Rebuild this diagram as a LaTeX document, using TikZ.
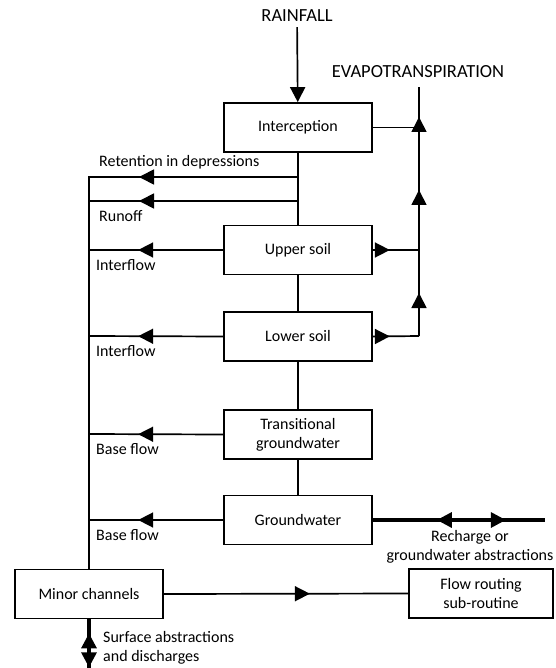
\documentclass[tikz,border=0pt]{standalone}
\usepackage{fontspec}
\setmainfont{Carlito}
\usepackage{tikz}
\usetikzlibrary{arrows.meta, decorations.markings}

\tikzset{
  box/.style={draw, line width=1.7pt, minimum width=148pt, minimum height=49pt, inner sep=0pt, align=center},
  title/.style={inner sep=0pt, font=\fontsize{18.5}{22}\selectfont},
  lbl/.style={inner sep=0pt, align=left},
  flow/.style={line width=1.7pt},
  heavy/.style={line width=3.2pt},
  tipat/.style={postaction={decorate, decoration={markings, mark=at position #1 with {\arrow{Triangle[length=15pt,width=15pt]}}}}},
  backtipat/.style={postaction={decorate, decoration={markings, mark=at position #1 with {\arrowreversed{Triangle[length=15pt,width=15pt]}}}}}
}

\begin{document}
\begin{tikzpicture}[x=1pt, y=-1pt, font=\fontsize{16}{19}\selectfont]
\useasboundingbox (0,0) rectangle (555,668);

% Stores
\node[box] (intc) at (298,127.5) {Interception};
\node[box] (upper) at (298,250) {Upper soil};
\node[box] (lower) at (298,336.5) {Lower soil};
\node[box] (trans) at (298,434.5) {Transitional\\groundwater};
\node[box] (gw) at (298,520) {Groundwater};
\node[box] (minor) at (89,594) {Minor channels};
\node[box, minimum width=144pt] (route) at (481,593.5) {Flow routing\\sub-routine};

% Inputs and outputs at the top
\node[title] (rain) at (297,16) {RAINFALL};
\node[title] (evap) at (418,72) {EVAPOTRANSPIRATION};
\draw[flow, -{Triangle[length=15pt,width=15pt]}, shorten <=5pt] (rain) -- (intc);

% Vertical chain through the stores
\draw[flow] (intc.south) -- (upper.north);
\draw[flow] (upper.south) -- (lower.north);
\draw[flow] (lower.south) -- (trans.north);
\draw[flow] (trans.south) -- (gw.north);

% Retention and runoff
\coordinate (c1) at (298,177);
\coordinate (c2) at (298,201);
\coordinate (r1) at (89,177);
\coordinate (r2) at (89,201);
\draw[flow, tipat=159pt] (c1) -- (r1) -- (minor.north);
\draw[flow, tipat=159pt] (c2) -- (r2);
\node[lbl, anchor=base west] (ret) at (99,167) {Retention in depressions};
\node[lbl, anchor=base west] (run) at (99,221) {Runoff};

% Interflow and base flow
\foreach \n/\y/\t in {upper/250/Interflow, lower/336/Interflow, trans/434/Base flow, gw/520/Base flow} {
  \coordinate (l-\n) at (89,\y);
  \draw[flow, tipat=85pt] (\n.west) -- (l-\n);
  \node[lbl, anchor=base west] (t-\n) at (96,\y+20) {\t};
}

% Evapotranspiration
\coordinate (e-top) at (419,87);
\coordinate (e-intc) at (419,127.5);
\foreach \n/\y in {upper/250, lower/336} {
  \coordinate (e-\n) at (419,\y);
  \draw[flow, tipat=17pt] (\n.east) -- (e-\n);
}
\draw[flow] (intc.east) -- (e-intc);
\draw[flow, tipat=43pt, tipat=146pt, tipat=219pt] (e-lower) -- (e-top);

% Groundwater exchange
\coordinate (g-end) at (545,520);
\draw[heavy, backtipat=64pt, tipat=133pt] (gw.east) -- (g-end);
\node[lbl, align=center] (rech) at (470,546.5) {Recharge or\\groundwater abstractions};

% Channels
\draw[flow, tipat=146pt] (minor.east) -- (route.west);
\coordinate (m-end) at (89,668);
\draw[heavy, backtipat=14pt, tipat=48pt] (minor.south) -- (m-end);
\node[lbl, anchor=west] (surf) at (103,648) {Surface abstractions\\and discharges};
\end{tikzpicture}
\end{document}
